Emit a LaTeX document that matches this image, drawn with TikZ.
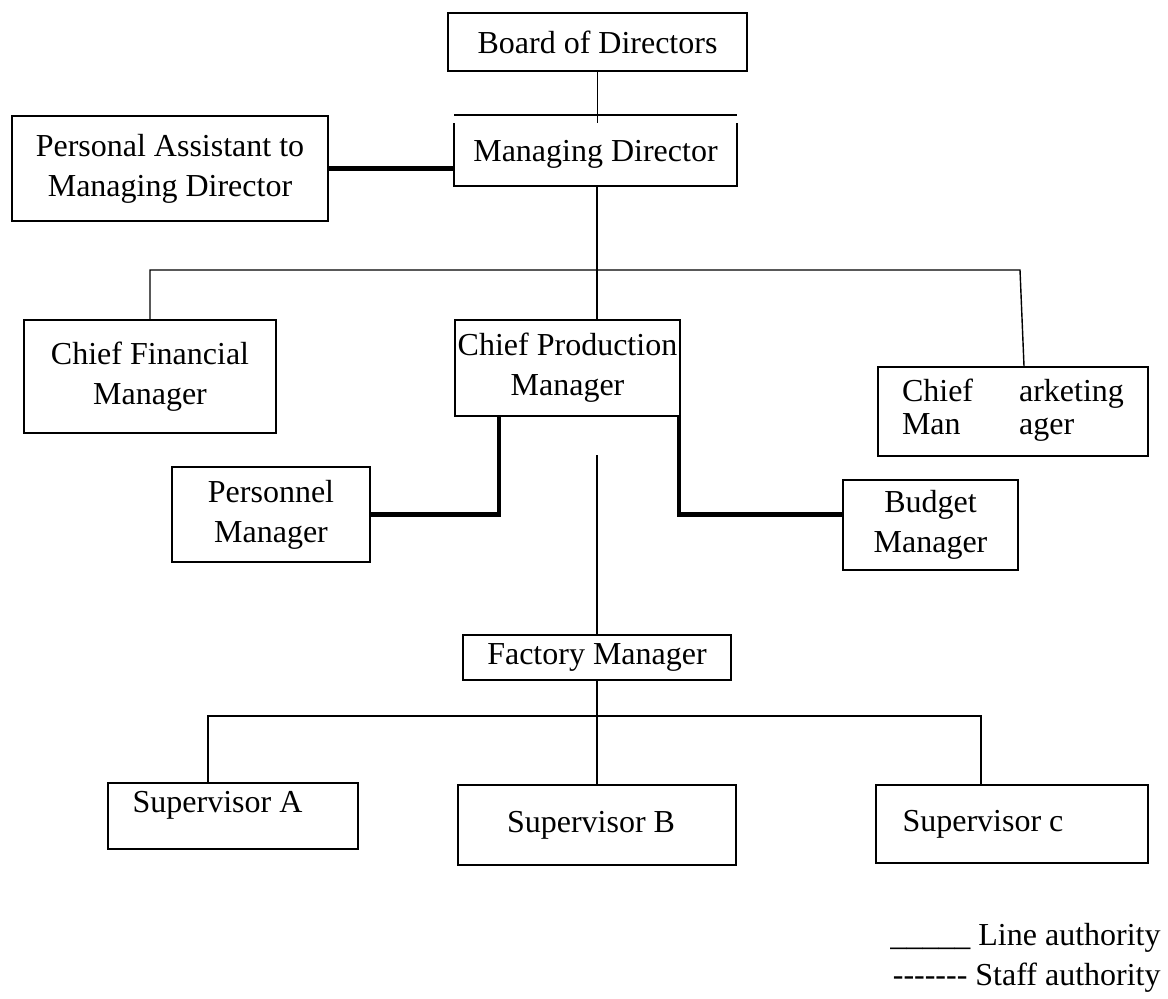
\documentclass[tikz,border=0pt]{standalone}
\usepackage{fontspec}
\setmainfont{Liberation Serif}
\tikzset{
  post/.style={draw, line width=1pt, align=center, inner sep=0pt},
  line/.style={line width=0.7pt},
  staff/.style={line width=2.2pt},
}
\newcommand{\dashrule}{\mbox{-}\mbox{-}\mbox{-}\mbox{-}\mbox{-}\mbox{-}\mbox{-}}
\begin{document}
\begin{tikzpicture}[x=0.5pt, y=-0.5pt, font=\fontsize{16}{20}\selectfont]
  \useasboundingbox (0,0) rectangle (1168,998);
  % posts
  \node[post, minimum width=149.5pt, minimum height=29pt] (bod) at (597.5,42) {Board of Directors};
  \node[post, draw=none, minimum width=140.5pt, minimum height=30.5pt] (md) at (595.5,154.5) {Managing Director};
  \node[post, minimum width=158pt, minimum height=52.5pt] (pa) at (170,168.5) {Personal Assistant to\\Managing Director};
  \node[post, minimum width=126pt, minimum height=56.5pt] (cfm) at (150,376.5) {Chief Financial\\Manager};
  \node[post, minimum width=112.5pt, minimum height=48pt] (cpm) at (567.5,368) {Chief Production\\Manager};
  \node[post, minimum width=135pt, minimum height=44.5pt] (cmm) at (1013,411.5)
    {\renewcommand{\arraystretch}{0.83}\begin{tabular}{@{}l@{\hspace{23pt}}l@{}}Chief & arketing\\Man & ager\end{tabular}};
  \node[post, minimum width=99pt, minimum height=47.5pt] (pm) at (271,514.5) {Personnel\\Manager};
  \node[post, minimum width=87.5pt, minimum height=45pt] (bm) at (930.5,525) {Budget\\Manager};
  \node[post, minimum width=134pt, minimum height=22.5pt] (fm) at (597,657.5) {Factory Manager};
  \node[post, minimum width=125pt, minimum height=33pt, text depth=14pt] (sa) at (233,816) {Supervisor A\hspace*{15.5pt}};
  \node[post, minimum width=139pt, minimum height=40pt] (sb) at (597,825) {Supervisor B\hspace*{6pt}};
  \node[post, minimum width=136pt, minimum height=39pt] (sc) at (1012,824) {Supervisor c\hspace*{29pt}};
  \draw[line width=1pt] (md.north west) -- (md.south west) -- (md.south east) -- (md.north east);
  % legend
  \node[anchor=base east, inner sep=0pt] (lineauth) at (1161,945) {\_\_\_\_\_ Line authority};
  \node[anchor=base east, inner sep=0pt] (staffauth) at (1161,985) {\dashrule\ Staff authority};
  % joints
  \coordinate (j1) at (597,270);
  \coordinate (mk) at (1020,270);
  \coordinate (gap) at (597,455);
  \coordinate (j2) at (597,716);
  \begin{scope}[line]
    \draw (bod.south) -- (bod.south |- md.north);
    \draw ([yshift=4pt]md.north west) -- ([yshift=4pt]md.north east);
    \draw (j1 |- md.south) -- (j1);
    \draw (cfm.north) |- (j1) -- (mk) -- ([xshift=5.5pt]cmm.north);
    \draw (j1) -- (j1 |- cpm.north);
    \draw (gap) -- (gap |- fm.north);
    \draw (fm.south) -- (j2);
    \draw ([xshift=-12.5pt]sa.north) |- (j2) -| ([xshift=-15.5pt]sc.north);
    \draw (j2) -- (j2 |- sb.north);
  \end{scope}
  \begin{scope}[staff]
    \draw (pa.east) -- (pa.east -| md.west);
    \draw (pm.east) -| ([xshift=22.5pt]cpm.south west);
    \draw ([xshift=-1pt]cpm.south east) |- (bm.west |- pm.east);
  \end{scope}
\end{tikzpicture}
\end{document}
